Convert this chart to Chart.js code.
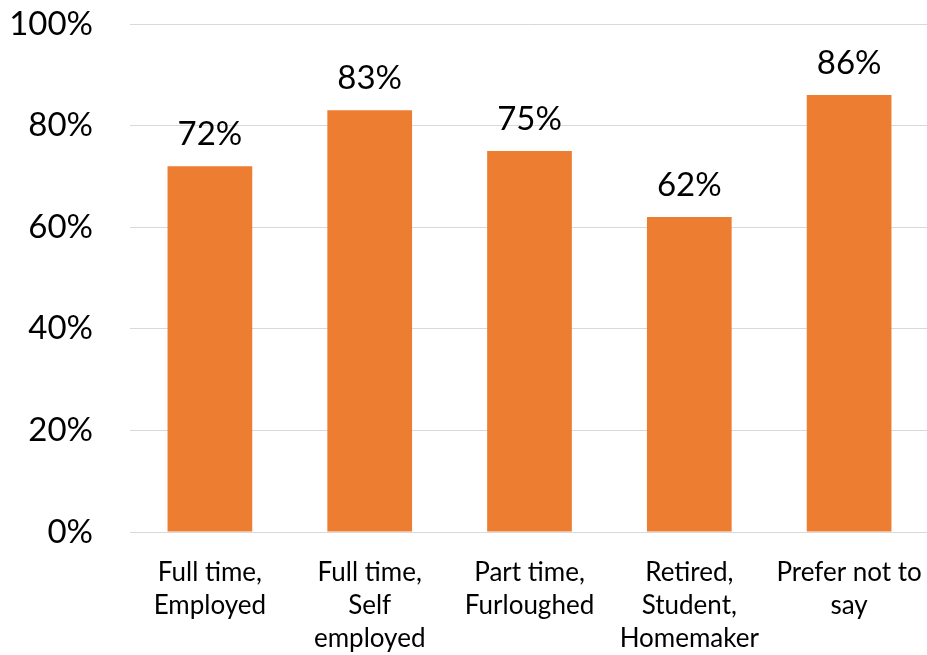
<!DOCTYPE html>
<html>
<head>
<meta charset="utf-8">
<script src="https://cdn.jsdelivr.net/npm/chart.js@4/dist/chart.umd.min.js"></script>
<style>
  html, body { margin: 0; padding: 0; background: #fff; overflow: hidden; }
  #wrap { position: relative; width: 932px; height: 655px; }
</style>
</head>
<body>
<div id="wrap"><canvas id="chart"></canvas></div>
<script>
// Share of respondents by employment status
const categories = [
  ['Full time,', 'Employed'],
  ['Full time,', 'Self', 'employed'],
  ['Part time,', 'Furloughed'],
  ['Retired,', 'Student,', 'Homemaker'],
  ['Prefer not to', 'say']
];
const values = [72, 83, 75, 62, 86];
const yTicks = [0, 20, 40, 60, 80, 100];

const FONT = 'Lato, Carlito, "Open Sans", sans-serif';
const BAR_COLOR = '#ED7D31';
const GRID_COLOR = '#d9d9d9';

// Percentage labels above each bar, taken from the bar's own value
const valueLabels = {
  id: 'valueLabels',
  afterDatasetsDraw(chart) {
    const { ctx } = chart;
    const meta = chart.getDatasetMeta(0);
    ctx.save();
    ctx.font = '33px ' + FONT;
    ctx.fillStyle = '#000';
    ctx.textAlign = 'center';
    ctx.textBaseline = 'alphabetic';
    meta.data.forEach((bar, i) => {
      ctx.fillText(values[i] + '%', bar.x, bar.y - 21);
    });
    ctx.restore();
  }
};

new Chart(document.getElementById('chart'), {
  type: 'bar',
  data: {
    labels: categories,
    datasets: [{
      data: values,
      backgroundColor: BAR_COLOR,
      borderWidth: 0,
      barPercentage: 0.53,
      categoryPercentage: 1.0
    }]
  },
  options: {
    responsive: true,
    maintainAspectRatio: false,
    animation: false,
    layout: { padding: { top: 24, right: 3, bottom: 0, left: 0 } },
    plugins: {
      legend: { display: false },
      tooltip: { enabled: false }
    },
    scales: {
      x: {
        afterFit(scale) {
          scale.paddingLeft = 0;
          scale.paddingRight = 0;
          scale.height = 123;
        },
        grid: { display: false, drawTicks: false },
        border: { display: true, color: GRID_COLOR, width: 1 },
        ticks: {
          color: '#000',
          padding: 24,
          maxRotation: 0,
          autoSkip: false,
          font: { family: FONT, size: 26, lineHeight: 1.27 }
        }
      },
      y: {
        min: 0,
        max: 100,
        afterBuildTicks(scale) {
          scale.ticks = yTicks.map(v => ({ value: v }));
        },
        afterFit(scale) {
          scale.width = 130;
          scale.paddingTop = 0;
          scale.paddingBottom = 0;
        },
        grid: { color: GRID_COLOR, lineWidth: 1, drawTicks: false },
        border: { display: false },
        ticks: {
          color: '#000',
          padding: 37,
          font: { family: FONT, size: 33 },
          callback: v => v + '%'
        }
      }
    }
  },
  plugins: [valueLabels]
});
</script>
</body>
</html>
